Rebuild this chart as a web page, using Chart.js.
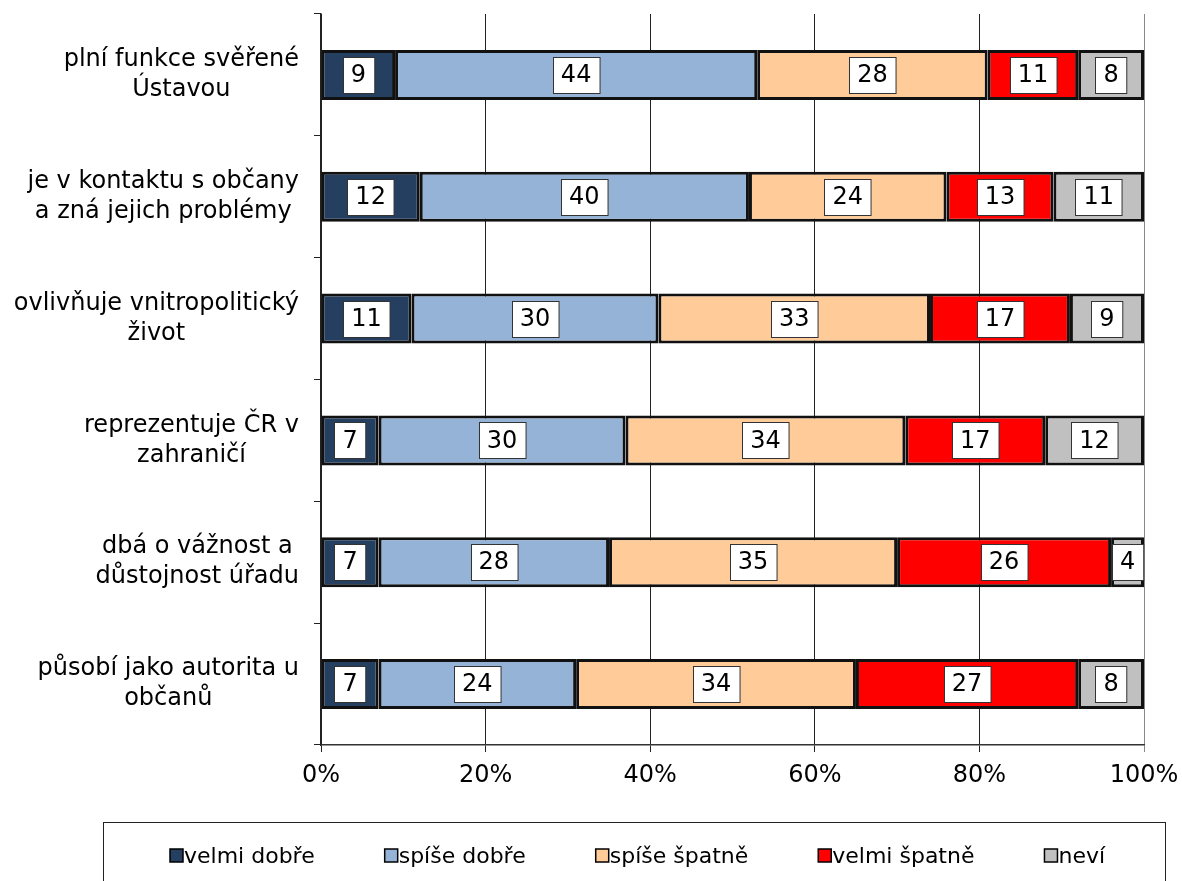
<!DOCTYPE html>
<html>
<head>
<meta charset="utf-8">
<script src="https://cdn.jsdelivr.net/npm/chart.js@4"></script>
<style>
  body { margin: 0; background: #fff; }
  #wrap { width: 1182px; height: 881px; }
</style>
</head>
<body>
<div id="wrap"><canvas id="myChart" width="1182" height="881"></canvas></div>
<script>
// categories (each one split into the lines shown in the picture)
var categories = [
  ['plní funkce svěřené', 'Ústavou'],
  ['je v kontaktu s občany', 'a zná jejich problémy'],
  ['ovlivňuje vnitropolitický', 'život'],
  ['reprezentuje ČR v', 'zahraničí'],
  ['dbá o vážnost a', 'důstojnost úřadu'],
  ['působí jako autorita u', 'občanů']
];
var seriesNames = ['velmi dobře', 'spíše dobře', 'spíše špatně', 'velmi špatně', 'neví'];
var velmiDobre  = [9, 12, 11, 7, 7, 7];
var spiseDobre  = [44, 40, 30, 30, 28, 24];
var spiseSpatne = [28, 24, 33, 34, 35, 34];
var velmiSpatne = [11, 13, 17, 17, 26, 27];
var nevi        = [8, 11, 9, 12, 4, 8];
var xTicks = [0, 20, 40, 60, 80, 100];

var colors = ['#243F60', '#95B3D7', '#FFCC99', '#FF0000', '#C0C0C0'];
var FONT = 'DejaVu Sans';

var series = [velmiDobre, spiseDobre, spiseSpatne, velmiSpatne, nevi];
var datasets = series.map(function (vals, i) {
  return {
    label: seriesNames[i],
    data: vals,
    backgroundColor: colors[i],
    borderColor: '#111',
    borderWidth: 3,
    borderSkipped: false,
    barPercentage: 0.41,
    categoryPercentage: 1
  };
});

// value boxes in the middle of every segment
var valueBoxes = {
  id: 'valueBoxes',
  afterDatasetsDraw: function (chart) {
    var ctx = chart.ctx;
    ctx.save();
    ctx.font = '24px "' + FONT + '"';
    ctx.textAlign = 'center';
    ctx.textBaseline = 'middle';
    chart.data.datasets.forEach(function (ds, di) {
      chart.getDatasetMeta(di).data.forEach(function (bar, i) {
        var txt = String(ds.data[i]);
        var cx = (bar.x + bar.base) / 2;
        var w = ctx.measureText(txt).width + 16;
        var h = 36;
        var x0 = Math.round(cx - w / 2) + 0.5, y0 = Math.round(bar.y - h / 2) + 0.5;
        ctx.fillStyle = '#fff';
        ctx.fillRect(x0, y0, w, h);
        ctx.strokeStyle = '#333';
        ctx.lineWidth = 1;
        ctx.strokeRect(x0, y0, w, h);
        ctx.fillStyle = '#000';
        ctx.fillText(txt, cx, bar.y + 1);
      });
    });
    ctx.restore();
  }
};

// category labels (lines centred on each other, block right aligned) and legend
var catLabels = {
  id: 'catLabels',
  afterDraw: function (chart) {
    var ctx = chart.ctx, y = chart.scales.y;
    ctx.save();
    ctx.font = '24px "' + FONT + '"';
    ctx.fillStyle = '#000';
    ctx.textAlign = 'center';
    ctx.textBaseline = 'middle';
    chart.data.labels.forEach(function (lines, i) {
      var maxW = 0;
      lines.forEach(function (l) { maxW = Math.max(maxW, ctx.measureText(l).width); });
      var cx = 299 - maxW / 2;
      var cy = y.getPixelForValue(i);
      var lh = 30;
      lines.forEach(function (l, k) {
        ctx.fillText(l, cx, cy + (k - (lines.length - 1) / 2) * lh);
      });
    });

    // legend in a frame
    ctx.strokeStyle = '#222';
    ctx.lineWidth = 1;
    ctx.strokeRect(103.5, 822.5, 1062, 100);
    ctx.font = '22px "' + FONT + '"';
    ctx.textAlign = 'left';
    var lx = 170, ly = 856;
    chart.data.datasets.forEach(function (ds) {
      ctx.fillStyle = ds.backgroundColor;
      ctx.fillRect(lx, ly - 7, 13, 13);
      ctx.strokeStyle = '#000';
      ctx.lineWidth = 1.5;
      ctx.strokeRect(lx, ly - 7, 13, 13);
      ctx.fillStyle = '#000';
      ctx.fillText(ds.label, lx + 14, ly + 1);
      lx += 14 + ctx.measureText(ds.label).width + 70;
    });
    ctx.restore();
  }
};

new Chart(document.getElementById('myChart').getContext('2d'), {
  type: 'bar',
  data: { labels: categories, datasets: datasets },
  options: {
    indexAxis: 'y',
    responsive: false,
    animation: false,
    layout: { padding: { left: 314, right: 38, top: 14, bottom: 46 } },
    scales: {
      x: {
        stacked: true,
        min: 0,
        max: 100,
        afterBuildTicks: function (s) { s.ticks = xTicks.map(function (v) { return { value: v }; }); },
        afterFit: function (s) { s.height = 90; s.paddingRight = 0; s.paddingLeft = 0; },
        grid: {
          color: function (c) { return c.tick && c.tick.value === 100 ? '#888' : '#222'; },
          lineWidth: 1,
          tickLength: 7
        },
        border: { color: '#333', width: 1.5 },
        ticks: {
          padding: 9,
          color: '#000',
          font: { family: FONT, size: 24 },
          callback: function (v) { return v + '%'; }
        }
      },
      y: {
        stacked: true,
        afterFit: function (s) { s.width = 7; },
        grid: { drawOnChartArea: false, color: '#222', tickLength: 7 },
        border: { color: '#222', width: 1.5 },
        ticks: { display: false }
      }
    },
    plugins: {
      legend: { display: false },
      tooltip: { enabled: false }
    }
  },
  plugins: [valueBoxes, catLabels]
});
</script>
</body>
</html>
